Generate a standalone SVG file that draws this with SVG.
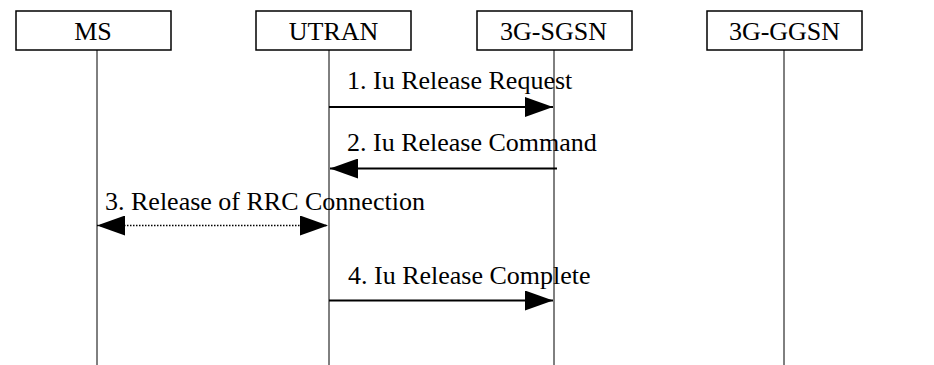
<svg xmlns="http://www.w3.org/2000/svg" width="934" height="365" viewBox="0 0 934 365">
<style>
.box{fill:#fff;stroke:#000;stroke-width:1.5}
.life{stroke:#000;stroke-width:1;fill:none}
.hdr{font-family:"Liberation Serif","Times New Roman",serif;font-size:26px;text-anchor:middle;fill:#000}
.lbl{font-family:"Liberation Serif","Times New Roman",serif;font-size:26px;fill:#000}
.msg{stroke:#000;stroke-width:2;fill:none}
.dot{stroke:#000;stroke-width:1.5;stroke-dasharray:1.5 1.5;fill:none}
</style>
<defs>
<marker id="ah" viewBox="0 0 28 20" refX="28" refY="10" markerWidth="28" markerHeight="20" markerUnits="userSpaceOnUse" orient="auto-start-reverse">
<path d="M0,0 L28,10 L0,20 z" fill="#000"/>
</marker>
</defs>
<rect width="934" height="365" fill="#fff"/>
<g id="MS">
<rect class="box" x="16" y="11" width="155" height="39"/>
<text class="hdr" x="93" y="39.5">MS</text>
<line class="life" x1="97" y1="50" x2="97" y2="365"/>
</g>
<g id="UTRAN">
<rect class="box" x="256" y="11" width="155" height="39"/>
<text class="hdr" x="333.5" y="39.5">UTRAN</text>
<line class="life" x1="329" y1="50" x2="329" y2="365"/>
</g>
<g id="SGSN">
<rect class="box" x="477" y="11" width="155" height="39"/>
<text class="hdr" x="553.5" y="39.5">3G-SGSN</text>
<line class="life" x1="554" y1="50" x2="554" y2="365"/>
</g>
<g id="GGSN">
<rect class="box" x="707" y="11" width="155" height="39"/>
<text class="hdr" x="784.5" y="39.5">3G-GGSN</text>
<line class="life" x1="784" y1="50" x2="784" y2="365"/>
</g>
<g id="connectors">
<line class="msg" x1="329" y1="107" x2="553" y2="107" marker-end="url(#ah)"/>
<text class="lbl" x="347" y="88.5">1. Iu Release Request</text>
<line class="msg" x1="557" y1="168.5" x2="330" y2="168.5" marker-end="url(#ah)"/>
<text class="lbl" x="347" y="151">2. Iu Release Command</text>
<line class="dot" x1="97" y1="225.5" x2="328" y2="225.5" marker-start="url(#ah)" marker-end="url(#ah)"/>
<text class="lbl" x="105" y="210">3. Release of RRC Connection</text>
<line class="msg" x1="329" y1="300.5" x2="553" y2="300.5" marker-end="url(#ah)"/>
<text class="lbl" x="348" y="284">4. Iu Release Complete</text>
</g>
</svg>
